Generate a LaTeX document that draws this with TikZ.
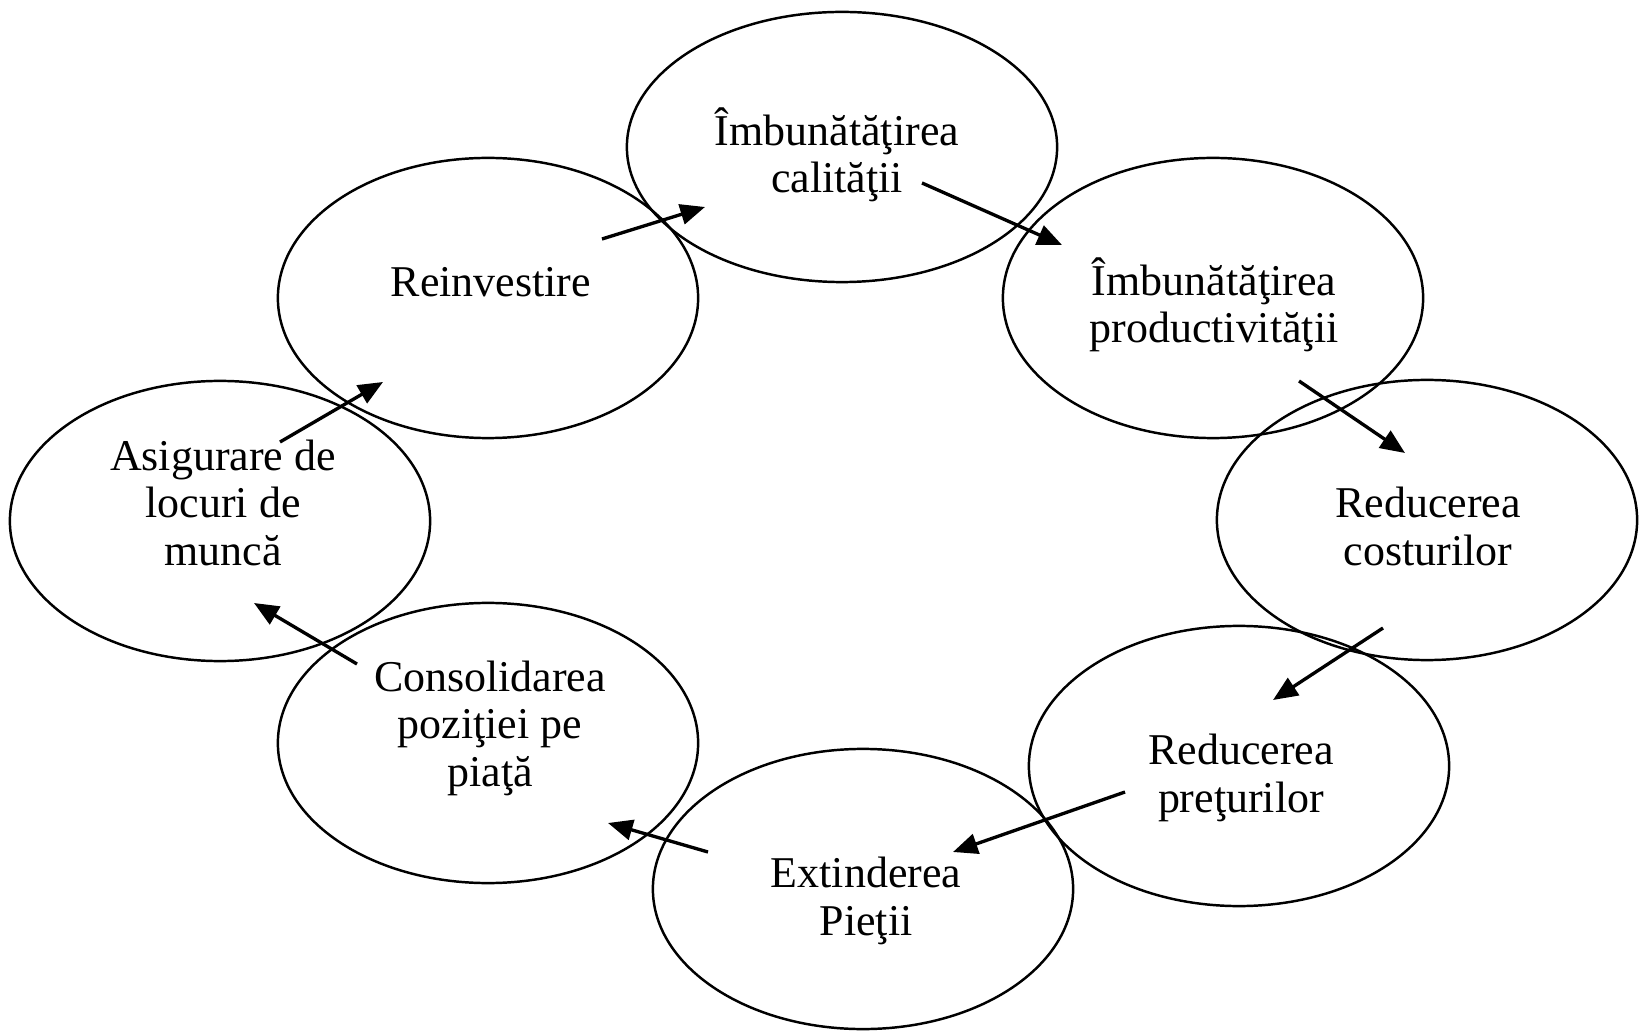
\documentclass[tikz,border=0pt]{standalone}
\usepackage{fontspec}
\setmainfont{Liberation Serif}
\usetikzlibrary{shapes.geometric,arrows.meta,calc}
\newcommand{\bubblefont}{\fontsize{12.5}{13.37}\selectfont\lineskiplimit=-50pt\relax}
\begin{document}
\begin{tikzpicture}[x=0.01cm,y=-0.01cm,
  bubble/.style={draw,ellipse,line width=0.7pt,minimum width=4.2cm,minimum height=2.8cm,inner sep=0pt},
  caption/.style={anchor=base,align=center,inner sep=0pt,font=\bubblefont},
  flow/.style={line width=0.95pt,-{Triangle[length=7pt,width=5.8pt]}}]
\useasboundingbox (0,0) rectangle (1646,1031);

% the eight stages of the cycle
\node[bubble,minimum width=4.3cm,minimum height=2.7cm] (calit) at (842,147) {};
\node[bubble] (prod)  at (1213,298) {};
\node[bubble] (cost)  at (1427,520) {};
\node[bubble] (pret)  at (1239,766) {};
\node[bubble] (ext)   at (863,889)  {};
\node[bubble] (cons)  at (488,743)  {};
\node[bubble] (asig)  at (220,521)  {};
\node[bubble] (reinv) at (488,298)  {};

% their captions (anchored on the baseline of the last line)
\node[caption] (tcalit) at ($(calit.center)+(-5,46)$) {Îmbunătăţirea\\calităţii};
\node[caption] (tprod)  at ($(prod.center)+(1,45)$)   {Îmbunătăţirea\\productivităţii};
\node[caption] (tcost)  at ($(cost.center)+(1,45)$)   {Reducerea\\costurilor};
\node[caption] (tpret)  at ($(pret.center)+(2,46)$)   {Reducerea\\preţurilor};
\node[caption] (text)   at ($(ext.center)+(3,46)$)    {Extinderea\\Pieţii};
\node[caption] (tcons)  at ($(cons.center)+(2,43)$)   {Consolidarea\\poziţiei pe\\piaţă};
\node[caption] (tasig)  at ($(asig.center)+(3,44)$)   {Asigurare de\\locuri de\\muncă};
\node[caption] (treinv) at ($(reinv.center)+(3,-1)$)  {Reinvestire};

% arrows closing the loop
\draw[flow] ($(reinv.center)+(114,-59)$) -- ($(calit.center)+(-137,60)$);
\draw[flow] ($(calit.center)+(80,36)$)    -- ($(prod.center)+(-151,-53)$);
\draw[flow] ($(prod.center)+(86,83)$)     -- ($(cost.center)+(-22,-67)$);
\draw[flow] ($(cost.center)+(-44,108)$)   -- ($(pret.center)+(34,-66)$);
\draw[flow] ($(pret.center)+(-114,26)$)   -- ($(ext.center)+(90,-37)$);
\draw[flow] ($(ext.center)+(-155,-37)$)   -- ($(cons.center)+(120,80)$);
\draw[flow] ($(cons.center)+(-131,-79)$)  -- ($(asig.center)+(34,82)$);
\draw[flow] ($(asig.center)+(60,-79)$)    -- ($(reinv.center)+(-105,84)$);
\end{tikzpicture}
\end{document}
